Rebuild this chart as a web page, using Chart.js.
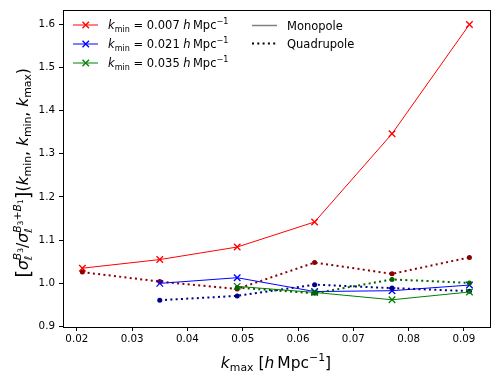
<!DOCTYPE html>
<html>
<head>
<meta charset="utf-8">
<script src="https://cdn.jsdelivr.net/npm/chart.js@4"></script>
<style>
  html, body { margin: 0; padding: 0; background: #fff; }
  canvas { display: block; }
</style>
</head>
<body>
<canvas id="chart" width="499" height="379"></canvas>
<script>
// ===== DATA =====
const kMax = [0.021, 0.035, 0.049, 0.063, 0.077, 0.091];
const mono007 = [1.035, 1.055, 1.084, 1.142, 1.346, 1.599];
const quad007 = [1.026, 1.004, 0.987, 1.048, 1.022, 1.060];
const mono021 = [null, 1.000, 1.013, 0.981, 0.983, 0.996];
const quad021 = [null, 0.961, 0.971, 0.997, 0.989, 0.982];
const mono035 = [null, null, 0.993, 0.979, 0.962, 0.980];
const quad035 = [null, null, 0.990, 0.977, 1.009, 1.001];
const xTicks = [0.02, 0.03, 0.04, 0.05, 0.06, 0.07, 0.08, 0.09];
const yTicks = [0.9, 1.0, 1.1, 1.2, 1.3, 1.4, 1.5, 1.6];
const kMinLabels = ['0.007', '0.021', '0.035'];

const FONT = '"DejaVu Sans", sans-serif';

function pts(arr) {
  return kMax.map((x, i) => ({ x: x, y: arr[i] })).filter(p => p.y !== null);
}

function monoSet(arr, color) {
  return {
    data: pts(arr), borderColor: color, backgroundColor: color, borderWidth: 1,
    pointStyle: 'crossRot', pointRadius: 4.6, pointBorderWidth: 1.3, tension: 0
  };
}
function quadSet(arr, color) {
  return {
    data: pts(arr), borderColor: color, backgroundColor: color, borderWidth: 2,
    borderDash: [2, 3.3], pointStyle: 'circle', pointRadius: 2.5, pointBorderWidth: 0, tension: 0
  };
}

const datasets = [
  monoSet(mono007, '#ff0000'), quadSet(quad007, '#8b0000'),
  monoSet(mono021, '#0000ff'), quadSet(quad021, '#00008b'),
  monoSet(mono035, '#008000'), quadSet(quad035, '#006400')
];
// later series on top, like matplotlib
datasets.forEach((d, i) => { d.order = datasets.length - i; });

// ===== RICH TEXT (sub/superscripts) =====
// part: [text, 'r'|'i', scale, dy (em, + is down), noAdvance]
function richWidth(ctx, parts, size) {
  let w = 0;
  parts.forEach(p => {
    ctx.font = (p[1] === 'i' ? 'italic ' : '') + (size * p[2]) + 'px ' + FONT;
    if (!p[4]) w += ctx.measureText(p[0]).width;
  });
  return w;
}
function drawRich(ctx, parts, size, x, y) {
  let cx = x;
  parts.forEach(p => {
    ctx.font = (p[1] === 'i' ? 'italic ' : '') + (size * p[2]) + 'px ' + FONT;
    ctx.fillText(p[0], cx, y + p[3] * size);
    if (!p[4]) cx += ctx.measureText(p[0]).width;
  });
}

const yLabel = [
  ['[', 'r', 1.3, 0.12], ['σ', 'i', 1, 0], ['ℓ', 'i', 0.7, 0.25, true],
  ['B', 'i', 0.7, -0.45], ['3', 'r', 0.49, -0.3], ['/', 'r', 1, 0],
  ['σ', 'i', 1, 0], ['ℓ', 'i', 0.7, 0.25, true],
  ['B', 'i', 0.7, -0.45], ['3', 'r', 0.49, -0.3], ['+', 'r', 0.7, -0.45],
  ['B', 'i', 0.7, -0.45], ['1', 'r', 0.49, -0.3], [']', 'r', 1.3, 0.12],
  ['(', 'r', 1, 0], ['k', 'i', 1, 0], ['min', 'r', 0.7, 0.2], [', ', 'r', 1, 0],
  ['k', 'i', 1, 0], ['min', 'r', 0.7, 0.2], [', ', 'r', 1, 0],
  ['k', 'i', 1, 0], ['max', 'r', 0.7, 0.2], [')', 'r', 1, 0]
];
const xLabel = [
  ['k', 'i', 1, 0], ['max', 'r', 0.7, 0.2], [' [', 'r', 1, 0], ['h', 'i', 1, 0],
  ['\u2009Mpc', 'r', 1, 0], ['\u22121', 'r', 0.7, -0.45], [']', 'r', 1, 0]
];
function kMinLabel(v) {
  return [['k', 'i', 1, 0], ['min', 'r', 0.7, 0.2], [' = ' + v + ' ', 'r', 1, 0],
    ['h', 'i', 1, 0], ['\u2009Mpc', 'r', 1, 0], ['\u22121', 'r', 0.7, -0.45]];
}

// ===== FRAME, LABELS, LEGEND =====
const decor = {
  id: 'decor',
  afterDraw(chart) {
    const ctx = chart.ctx, a = chart.chartArea;
    ctx.save();
    ctx.strokeStyle = '#000';
    ctx.lineWidth = 1;
    ctx.strokeRect(Math.round(a.left) + 0.5, Math.round(a.top) + 0.5,
      Math.round(a.right - a.left) - 1, Math.round(a.bottom - a.top));
    ctx.fillStyle = '#000';
    ctx.textBaseline = 'alphabetic';

    // x label
    let w = richWidth(ctx, xLabel, 15.5);
    drawRich(ctx, xLabel, 15.5, 276 - w / 2, 368);

    // y label
    ctx.save();
    ctx.translate(28, 173);
    ctx.rotate(-Math.PI / 2);
    w = richWidth(ctx, yLabel, 15.5);
    drawRich(ctx, yLabel, 15.5, -w / 2, 0);
    ctx.restore();

    // legend, column 1
    const rows = [25, 44, 63];
    const cols = ['#ff0000', '#0000ff', '#008000'];
    rows.forEach((ry, i) => {
      ctx.strokeStyle = cols[i];
      ctx.lineWidth = 1;
      ctx.setLineDash([]);
      ctx.beginPath(); ctx.moveTo(73, ry); ctx.lineTo(98, ry); ctx.stroke();
      ctx.lineWidth = 1.3;
      ctx.beginPath();
      ctx.moveTo(82.5, ry - 3.3); ctx.lineTo(89, ry + 3.3);
      ctx.moveTo(82.5, ry + 3.3); ctx.lineTo(89, ry - 3.3);
      ctx.stroke();
      ctx.fillStyle = '#000';
      drawRich(ctx, kMinLabel(kMinLabels[i]), 11.5, 108, ry + 4.3);
    });
    // legend, column 2
    ctx.strokeStyle = '#808080';
    ctx.lineWidth = 1.5;
    ctx.beginPath(); ctx.moveTo(252, 25.5); ctx.lineTo(277, 25.5); ctx.stroke();
    ctx.strokeStyle = '#000';
    ctx.lineWidth = 2;
    ctx.setLineDash([2, 3.3]);
    ctx.beginPath(); ctx.moveTo(252, 43.5); ctx.lineTo(277, 43.5); ctx.stroke();
    ctx.setLineDash([]);
    ctx.font = '11.5px ' + FONT;
    ctx.fillText('Monopole', 287, 30);
    ctx.fillText('Quadrupole', 287, 48);
    ctx.restore();
  }
};

const tickFont = { family: FONT, size: 10.3 };

new Chart(document.getElementById('chart'), {
  type: 'line',
  data: { datasets: datasets },
  plugins: [decor],
  options: {
    responsive: false,
    animation: false,
    devicePixelRatio: 1,
    layout: { padding: { top: 8, right: 8, left: 0, bottom: 0 } },
    plugins: { legend: { display: false }, tooltip: { enabled: false } },
    scales: {
      x: {
        type: 'linear', min: 0.0175, max: 0.0949,
        afterBuildTicks: s => { s.ticks = xTicks.map(v => ({ value: v })); },
        afterFit: s => { s.height = 52; },
        ticks: { color: '#000', font: tickFont, padding: 2, maxRotation: 0,
          callback: v => v.toFixed(2) },
        grid: { drawOnChartArea: false, drawTicks: true, tickLength: 4, color: '#000' },
        border: { display: false }
      },
      y: {
        type: 'linear', min: 0.899, max: 1.632,
        afterBuildTicks: s => { s.ticks = yTicks.map(v => ({ value: v })); },
        afterFit: s => { s.width = 63; },
        ticks: { color: '#000', font: tickFont, padding: 4,
          callback: v => v.toFixed(1) },
        grid: { drawOnChartArea: false, drawTicks: true, tickLength: 4, color: '#000' },
        border: { display: false }
      }
    }
  }
});
</script>
</body>
</html>
